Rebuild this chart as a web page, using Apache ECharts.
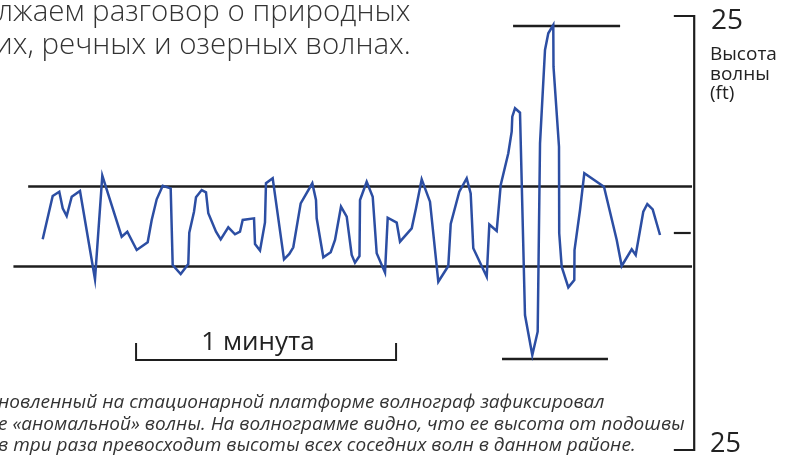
<!DOCTYPE html>
<html><head><meta charset="utf-8">
<script src="https://cdn.jsdelivr.net/npm/echarts@6/dist/echarts.min.js"></script>
<style>html,body{margin:0;padding:0;background:#fff}#c{width:795px;height:455px}</style>
</head><body><div id="c"></div>
<script>
// Wave record: time (s) and surface elevation (ft)
const waveTime = [9.85,12.16,13.68,14.47,15.39,16.55,18.46,21.92,23.61,28.08,29.38,31.55,34.08,35.01,36.16,37.55,39.39,39.85,41.70,43.45,43.68,44.77,45.23,46.55,47.54,48.07,49.85,50.93,52.68,54.23,55.38,56.01,58.62,58.85,60.00,61.15,61.38,62.93,65.54,66.76,67.68,69.39,72.07,72.92,73.08,74.61,76.32,77.31,78.69,80.01,81.16,81.92,82.96,83.08,84.62,86.01,86.93,88.85,89.47,91.55,92.31,95.01,96.00,97.31,99.23,101.15,103.45,104.01,105.99,107.70,108.62,109.22,112.32,112.92,114.62,115.55,117.30,118.08,118.22,118.85,120.00,121.15,122.84,124.08,124.62,125.77,126.53,127.68,127.73,129.00,129.05,129.62,131.15,132.53,132.58,133.85,134.84,139.38,142.32,143.47,145.78,146.70,148.45,149.38,150.62,152.31];
const waveHeight = [-0.73,4.26,4.76,2.85,1.96,4.18,4.84,-5.33,6.60,-0.43,0.15,-1.96,-1.07,1.50,3.88,5.45,5.15,-3.69,-4.72,-3.57,0.03,2.45,4.11,4.95,4.69,2.27,0.15,-0.73,0.66,-0.15,0.15,1.50,1.69,-1.27,-2.02,1.21,5.73,6.30,-3.03,-2.42,-1.65,3.42,5.73,3.80,1.69,-2.80,-2.22,-0.81,3.03,1.88,-2.53,-3.42,-2.65,3.80,5.91,4.18,-2.34,-4.57,1.76,1.19,-1.00,0.54,2.85,6.19,3.61,-5.61,-3.80,1.04,4.76,6.30,4.57,-1.76,-5.03,0.98,0.23,5.53,9.18,11.67,13.40,14.37,13.86,-9.45,-14.06,-11.37,10.33,21.08,23.01,23.96,19.16,9.94,-0.03,-3.88,-6.26,-5.41,-1.96,2.65,6.88,5.33,-0.81,-3.80,-1.88,-2.53,2.45,3.34,2.73,-0.23];

// Reference levels (ft) and their time spans (s)
const upperLevel = 5.36, upperSpan = [6.5, 159.7];
const lowerLevel = -3.86, lowerSpan = [3.1, 159.7];
const crestLevel = 23.85, crestSpan = [118.4, 143.1];
const troughLevel = -14.52, troughSpan = [115.85, 140.3];

// Scale bar: 1 minute
const scaleStart = 31.4, scaleDuration = 60, scaleLevel = -14.63, scaleTickTop = -12.67;
const scaleLabel = '1 минута';

// Height scale on the right
const scaleMax = 25, scaleMin = -25, scaleMid = 0;
const scaleTickLabels = ['25', '25'];
const axisName = ['Высота', 'волны', '(ft)'];

const introText = ['лжаем разговор о природных', 'их, речных и озерных волнах.'];
const caption = [
  'новленный на стационарной платформе волнограф зафиксировал',
  'е «аномальной» волны. На волнограмме видно, что ее высота от подошвы',
  'в три раза превосходит высоты всех соседних волн в данном районе.'
];

const bracketX = 160.2, bracketTickX = 155.5, midTickEnd = 159.4;

const black = '#1e1e1e';
const blackLine = (data, w) => ({type:'line', data, symbol:'none', silent:true, animation:false,
  lineStyle:{color:black, width:w||2.6, cap:'butt', join:'miter'}, z:1});

const chart = echarts.init(document.getElementById('c'), null, {renderer:'canvas'});
chart.setOption({
  backgroundColor:'#fff',
  animation:false,
  grid:{left:0, top:16, width:780, height:434},
  xAxis:{type:'value', min:0, max:180, show:false},
  yAxis:{type:'value', min:-25, max:25, show:false},
  series:[
    blackLine([[upperSpan[0],upperLevel],[upperSpan[1],upperLevel]]),
    blackLine([[lowerSpan[0],lowerLevel],[lowerSpan[1],lowerLevel]]),
    blackLine([[crestSpan[0],crestLevel],[crestSpan[1],crestLevel]]),
    blackLine([[troughSpan[0],troughLevel],[troughSpan[1],troughLevel]]),
    blackLine([[scaleStart,scaleTickTop],[scaleStart,scaleLevel],[scaleStart+scaleDuration,scaleLevel],[scaleStart+scaleDuration,scaleTickTop]], 2),
    blackLine([[bracketTickX,scaleMax],[bracketX,scaleMax],[bracketX,scaleMin],[bracketTickX,scaleMin]], 2.2),
    blackLine([[bracketTickX,scaleMid],[midTickEnd,scaleMid]], 2.2),
    {type:'line', data:waveTime.map((t,i)=>[t,waveHeight[i]]), symbol:'none', silent:true,
     lineStyle:{color:'#2c4ea3', width:2.5, join:'miter'}, z:3}
  ],
  graphic:[
    {type:'text', left:-3, top:-2, style:{text:introText[0], font:'300 29.5px "Open Sans", "Noto Sans", sans-serif', fill:'#333'}},
    {type:'text', left:-5, top:31, style:{text:introText[1], font:'300 29.5px "Open Sans", "Noto Sans", sans-serif', fill:'#333'}},
    {type:'text', x:258, y:356, style:{text:scaleLabel, font:'26px "Open Sans", "Noto Sans", sans-serif', fill:'#222', align:'center', verticalAlign:'bottom'}},
    {type:'text', x:711, y:7, style:{text:scaleTickLabels[0], font:'28px "Open Sans", "Noto Sans", sans-serif', fill:'#222'}},
    {type:'text', x:710, y:431, style:{text:scaleTickLabels[1], font:'27px "Open Sans", "Noto Sans", sans-serif', fill:'#222'}},
    {type:'text', x:710, y:45, style:{text:axisName.join('\n'), font:'19px "Open Sans", "Noto Sans", sans-serif', lineHeight:19.5, fill:'#222'}},
    {type:'text', x:-2, y:392, style:{text:caption.join('\n'), font:'italic 19px "Open Sans", "Noto Sans", sans-serif', lineHeight:21.5, fill:'#333'}}
  ]
});
</script></body></html>
